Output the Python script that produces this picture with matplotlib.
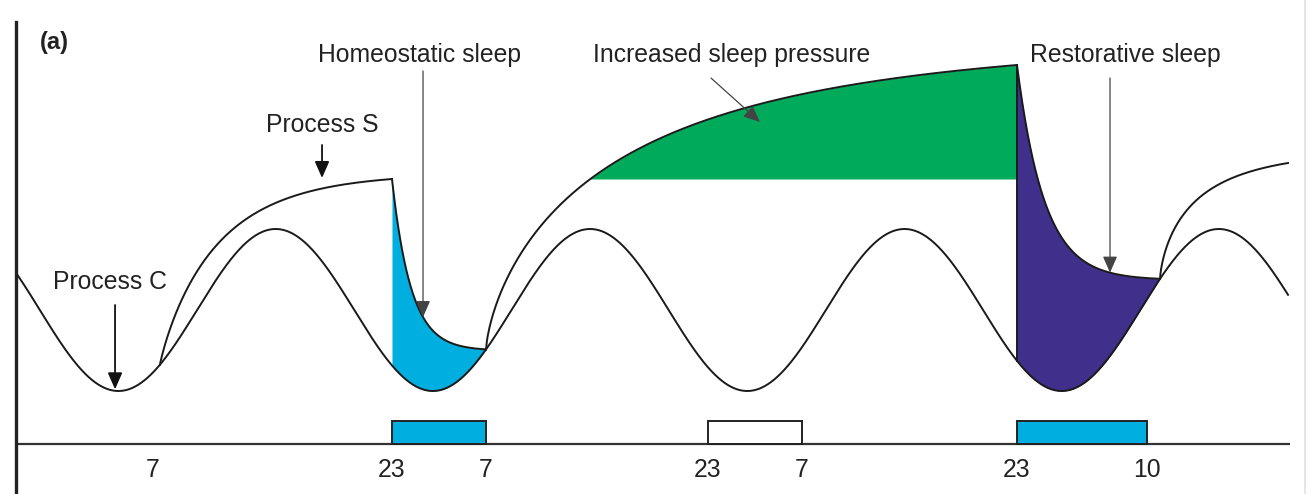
import numpy as np
import matplotlib.pyplot as plt

plt.rcParams['font.family'] = ['Liberation Sans', 'DejaVu Sans']

# schematic time axis in hours, level in arbitrary units (0 = baseline)
tick_pos = [10.46, 28.70, 35.88, 52.82, 60.00, 76.41, 86.34]
tick_labels = ['7', '23', '7', '23', '7', '23', '10']

# sleep bars under the curves
sleep_start = [28.70, 52.82, 76.41]
sleep_end = [35.88, 60.00, 86.34]
sleep_fill = ['#00afdf', 'white', '#00afdf']
bar_height = 2.3

# process C (circadian)
c_mean = 13.4
c_amp = 8.1
c_period = 24.0
c_trough = 7.82
c_from, c_to = 0.15, 97.10

# process S: wake (rising) and sleep (falling) episodes
wake_start = [10.99, 35.88, 87.33]
wake_end = [28.70, 76.41, 97.10]
wake_level = [26.5, 37.9, 28.1]      # level reached at end of each wake period
wake_tau = [4.43, 11.0, 3.05]
wake_shape = [0.9, 0.7, 0.7]
sleep_tau = [1.45, 2.1]               # decay during the two drawn sleep periods


def proc_c(t):
    return c_mean - c_amp * np.cos(2 * np.pi * (t - c_trough) / c_period)


def rise(t, t0, t1, y0, y1, tau, p):
    g = lambda d: 1 - np.exp(-(d / tau) ** p)
    return y0 + (y1 - y0) * g(t - t0) / g(t1 - t0)


def decay(t, t0, t1, y0, y1, tau):
    e = lambda d: np.exp(-d / tau)
    return y1 + (y0 - y1) * (e(t - t0) - e(t1 - t0)) / (1 - e(t1 - t0))


fig = plt.figure(figsize=(13.11, 4.94), dpi=100)
ax = fig.add_axes([16 / 1311, 0, 1274 / 1311, 472 / 494])
ax.set_xlim(0, 97.25)
ax.set_ylim(-5.0, 42.2)
for s in ['top', 'right', 'bottom']:
    ax.spines[s].set_visible(False)
ax.spines['left'].set_linewidth(2.4)
ax.spines['left'].set_color('#222222')
ax.set_xticks([])
ax.set_yticks([])

lc = '#1a1a1a'
lw = 1.4

# process C
tc = np.linspace(c_from, c_to, 2000)
ax.plot(tc, proc_c(tc), color=lc, lw=lw, zorder=3)

# process S, wake segments
wake_curves = []
for i in range(3):
    t = np.linspace(wake_start[i], wake_end[i], 600)
    y = rise(t, wake_start[i], wake_end[i], proc_c(wake_start[i]), wake_level[i],
             wake_tau[i], wake_shape[i])
    wake_curves.append((t, y))
    ax.plot(t, y, color=lc, lw=lw, zorder=3)

# sleep segments (after wake 1 and wake 2)
sleep_curves = []
for i in range(2):
    t0, t1 = wake_end[i], wake_start[i + 1]
    t = np.linspace(t0, t1, 600)
    y = decay(t, t0, t1, wake_level[i], proc_c(t1), sleep_tau[i])
    sleep_curves.append((t, y))
    ax.plot(t, y, color=lc, lw=lw, zorder=3)

# homeostatic sleep (blue) and restorative sleep (purple)
t, y = sleep_curves[0]
ax.fill_between(t, proc_c(t), y, color='#00afdf', lw=0, zorder=1)
t, y = sleep_curves[1]
ax.fill_between(t, proc_c(t), y, color='#41308b', lw=0, zorder=1)
ax.plot([wake_end[1], wake_end[1]], [proc_c(wake_end[1]), wake_level[1]],
        color=lc, lw=lw, zorder=3)

# increased sleep pressure (green): above the normal sleep-onset level
t, y = wake_curves[1]
ax.fill_between(t, wake_level[0], y, where=y >= wake_level[0],
                color='#00aa5b', lw=0, zorder=1)

# baseline and sleep bars
ax.plot([0, 97.25], [0, 0], color='#333333', lw=1.6, zorder=2)
for a, b, fc in zip(sleep_start, sleep_end, sleep_fill):
    ax.add_patch(plt.Rectangle((a, 0), b - a, bar_height, facecolor=fc,
                               edgecolor='#222222', lw=1.4, zorder=2))

fs = 17.8
tc_col = '#222222'
for x, lab in zip(tick_pos, tick_labels):
    ax.text(x, -2.6, lab, ha='center', va='center', fontsize=fs, color=tc_col)

# labels and arrows
ax.text(2.9, 40.2, '(a)', fontsize=17, fontweight='bold', ha='center',
        va='center', color=tc_col)

head = '-|>,head_length=0.5,head_width=0.22'

ax.text(7.2, 16.2, 'Process C', fontsize=fs, ha='center', va='center', color=tc_col)
ax.annotate('', xy=(7.56, proc_c(7.56) + 0.15), xytext=(7.56, 13.9),
            arrowprops=dict(arrowstyle=head, color='#111111', lw=1.3,
                            mutation_scale=20, shrinkA=0, shrinkB=0), zorder=4)

ax.text(23.4, 31.9, 'Process S', fontsize=fs, ha='center', va='center', color=tc_col)
ax.annotate('', xy=(23.36, 26.6), xytext=(23.36, 29.9),
            arrowprops=dict(arrowstyle=head, color='#111111', lw=1.3,
                            mutation_scale=20, shrinkA=0, shrinkB=0), zorder=4)

ax.text(30.84, 38.9, 'Homeostatic sleep', fontsize=fs, ha='center', va='center',
        color=tc_col)
xa = 31.07
t, y = sleep_curves[0]
ax.annotate('', xy=(xa, np.interp(xa, t, y)), xytext=(xa, 37.3),
            arrowprops=dict(arrowstyle=head, color='#444444', lw=0.9,
                            mutation_scale=20, shrinkA=0, shrinkB=0), zorder=4)

ax.text(54.66, 38.9, 'Increased sleep pressure', fontsize=fs, ha='center',
        va='center', color=tc_col)
ax.annotate('', xy=(56.79, 32.2), xytext=(53.05, 36.6),
            arrowprops=dict(arrowstyle=head, color='#444444', lw=0.9,
                            mutation_scale=20, shrinkA=0, shrinkB=0), zorder=4)

ax.text(84.66, 38.9, 'Restorative sleep', fontsize=fs, ha='center', va='center',
        color=tc_col)
xa = 83.51
t, y = sleep_curves[1]
ax.annotate('', xy=(xa, np.interp(xa, t, y)), xytext=(xa, 36.6),
            arrowprops=dict(arrowstyle=head, color='#444444', lw=0.9,
                            mutation_scale=20, shrinkA=0, shrinkB=0), zorder=4)

# faint frame edge on the right
fig.add_artist(plt.Line2D([1305 / 1311, 1305 / 1311], [0, 1], color='#e6e6e6', lw=1.5))

fig.savefig('out.png', dpi=100)
